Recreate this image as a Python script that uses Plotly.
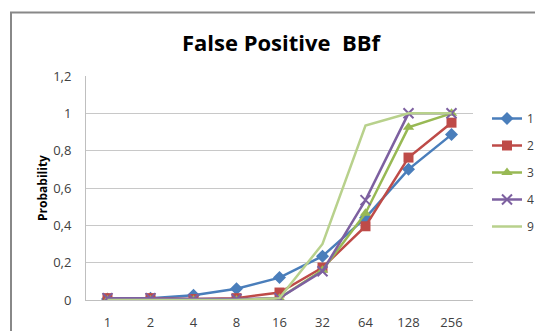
import plotly.graph_objects as go

categories = ["1", "2", "4", "8", "16", "32", "64", "128", "256"]
series_names = ["1", "2", "3", "4", "9"]
s1 = [0.005, 0.01, 0.025, 0.06, 0.12, 0.235, 0.44, 0.70, 0.886]
s2 = [0.01, 0.01, 0.005, 0.01, 0.04, 0.174, 0.395, 0.763, 0.95]
s3 = [0.0, 0.0, 0.0, 0.0, 0.01, 0.16, 0.465, 0.925, 1.0]
s4 = [0.01, 0.01, 0.005, 0.005, 0.01, 0.154, 0.535, 1.0, 1.0]
s9 = [0.0, 0.0, 0.0, 0.0, 0.01, 0.30, 0.935, 1.0, 1.0]
y_tickvals = [0, 0.2, 0.4, 0.6, 0.8, 1.0, 1.2]
y_ticktext = ["0", "0,2", "0,4", "0,6", "0,8", "1", "1,2"]

values = [s1, s2, s3, s4, s9]
colors = ["#4A7EBB", "#BE4B48", "#98B954", "#7D60A0", "#B8D18C"]
symbols = ["diamond", "square", "triangle-up", "x-thin", None]
sizes = [10, 10, 10, 10, 0]

fig = go.Figure()
for name, vals, col, sym, sz in zip(series_names, values, colors, symbols, sizes):
    if sym is None:
        mode = "lines"
        marker = dict()
    else:
        mode = "lines+markers"
        marker = dict(symbol=sym, size=sz, color=col,
                      line=dict(color=col, width=2 if sym == "x-thin" else 0))
    fig.add_trace(go.Scatter(
        x=categories, y=vals, name=name, mode=mode,
        line=dict(color=col, width=2.5), marker=marker,
        legendgroup=name,
    ))

# page body offsets the figure by 8px; figure fills the rest of the window
OFF = 8
W, H = 543 - OFF, 331 - OFF
# plot-area edges in window pixels
PL, PR, PT, PB = 86, 473, 76, 300

def fx(p):
    return (p - OFF) / W

def fy(p):
    return 1 - (p - OFF) / H

border = dict(color="#888888", width=2)

fig.update_layout(
    width=W, height=H,
    margin=dict(l=0, r=0, t=0, b=0, pad=0, autoexpand=False),
    paper_bgcolor="white", plot_bgcolor="white",
    title=dict(text="<b>False Positive  BBf</b>", x=fx(281), xanchor="center",
               y=fy(43), yanchor="middle",
               font=dict(family="Open Sans", size=22, color="#000000")),
    font=dict(family="Open Sans", size=13, color="#404040"),
    showlegend=True,
    legend=dict(x=fx(487), y=fy(104), xanchor="left", yanchor="top",
                itemwidth=30,
                font=dict(size=12, color="#404040"), tracegroupgap=8,
                bgcolor="rgba(0,0,0,0)"),
    xaxis=dict(type="category", range=[-0.5, 8.5], domain=[fx(PL), fx(PR)],
               showgrid=False, automargin=False,
               showline=True, linecolor="#bfbfbf", linewidth=1,
               ticks="", ticklabelstandoff=10, tickfont=dict(size=13),
               fixedrange=True),
    yaxis=dict(range=[0, 1.2], domain=[fy(PB), fy(PT)], automargin=False,
               tickvals=y_tickvals, ticktext=y_ticktext,
               showgrid=True, gridcolor="#c8c8c8", gridwidth=1,
               showline=True, linecolor="#bfbfbf", linewidth=1,
               zeroline=False, ticks="", ticklabelstandoff=11,
               tickfont=dict(size=13),
               title=dict(text="<b>Probability</b>", font=dict(size=12, color="#000000"),
                          standoff=2)),
    shapes=[
        dict(type="rect", xref="paper", yref="paper",
             x0=fx(11), x1=1.2, y0=-0.2, y1=fy(12.5), line=border),
    ],
)

fig.write_html("out.html")
